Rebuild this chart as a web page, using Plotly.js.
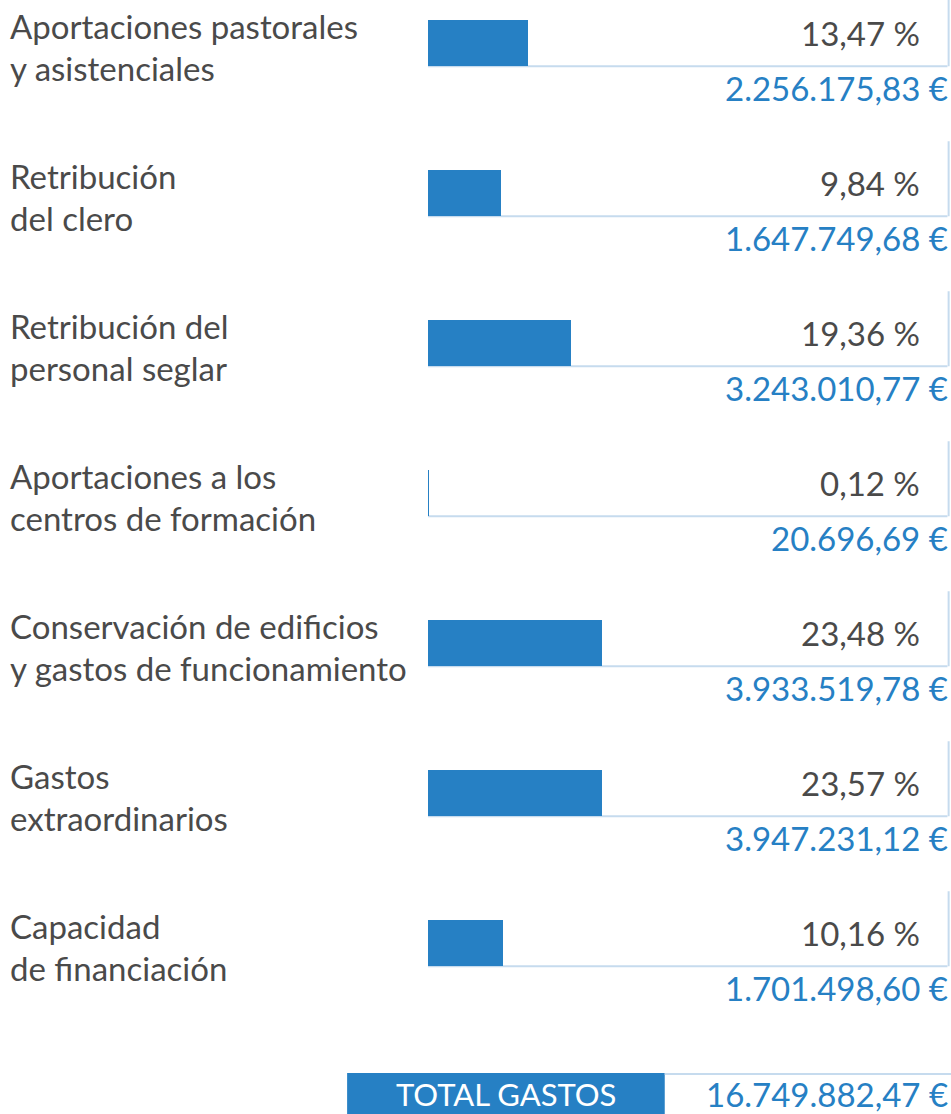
<!DOCTYPE html>
<html><head><meta charset="utf-8">
<script src="https://cdn.plot.ly/plotly-3.0.1.min.js"></script>
<style>html,body{margin:0;padding:0;background:#fff}#chart{width:951px;height:1114px}</style>
</head><body><div id="chart"></div>
<script>
const labels = [
  ["Aportaciones pastorales","y asistenciales"],
  ["Retribución","del clero"],
  ["Retribución del","personal seglar"],
  ["Aportaciones a los","centros de formación"],
  ["Conservación de edificios","y gastos de funcionamiento"],
  ["Gastos","extraordinarios"],
  ["Capacidad","de financiación"]
];
const percents = [13.47, 9.84, 19.36, 0.12, 23.48, 23.57, 10.16];
const percentText = ["13,47 %","9,84 %","19,36 %","0,12 %","23,48 %","23,57 %","10,16 %"];
const amounts = ["2.256.175,83 €","1.647.749,68 €","3.243.010,77 €","20.696,69 €","3.933.519,78 €","3.947.231,12 €","1.701.498,60 €"];
const totalLabel = "TOTAL GASTOS";
const totalAmount = "16.749.882,47 €";

const BLUE = "#2680c4", GREY = "#4a4a4a", LIGHT = "#c6dbee";
const FONT = "Lato, 'Open Sans', sans-serif";
const FS = 33;
const idx = percents.map((_, i) => i);
const half = 0.155;

const trace = {
  type: "bar", orientation: "h",
  x: percents, y: idx, width: 0.31,
  marker: {color: BLUE, line: {width: 0}},
  hoverinfo: "skip"
};

const shapes = [];
const annotations = [];
idx.forEach(i => {
  shapes.push({type: "line", xref: "x", yref: "y", x0: 0, x1: 70.2, y0: i + half, y1: i + half, line: {color: LIGHT, width: 2}, layer: "below"});
  shapes.push({type: "line", xref: "paper", yref: "y", x0: 0.9975, x1: 0.9975, y0: i + half, y1: i + half - 0.5, line: {color: LIGHT, width: 2}, layer: "below"});
  labels[i].forEach((ln, k) => {
    annotations.push({xref: "paper", yref: "y", x: 0.008, y: i, xanchor: "left", yanchor: "middle",
      yshift: k === 0 ? 17 : -25, text: ln, showarrow: false, font: {family: FONT, size: FS, color: GREY}});
  });
  annotations.push({xref: "paper", yref: "y", x: 0.97, y: i, xanchor: "right", yanchor: "middle", yshift: 10,
    text: percentText[i], showarrow: false, font: {family: FONT, size: FS, color: GREY}});
  annotations.push({xref: "paper", yref: "y", x: 0.999, y: i, xanchor: "right", yanchor: "middle", yshift: -45,
    text: amounts[i], showarrow: false, font: {family: FONT, size: FS, color: BLUE}});
});
const tIdx = percents.length;
shapes.push({type: "rect", xref: "paper", yref: "y", x0: 0.365, x1: 0.699, y0: tIdx - 0.133, y1: tIdx + 0.2, fillcolor: BLUE, line: {width: 0}});
shapes.push({type: "line", xref: "paper", yref: "y", x0: 0.699, x1: 1, y0: tIdx - 0.126, y1: tIdx - 0.126, line: {color: LIGHT, width: 2}});
annotations.push({xref: "paper", yref: "y", x: 0.532, y: tIdx, xanchor: "center", yanchor: "middle", yshift: -1,
  text: totalLabel, showarrow: false, font: {family: FONT, size: 31, color: "#ffffff"}});
annotations.push({xref: "paper", yref: "y", x: 0.999, y: tIdx, xanchor: "right", yanchor: "middle", yshift: -1,
  text: totalAmount, showarrow: false, font: {family: FONT, size: FS, color: BLUE}});

const layout = {
  width: 951, height: 1114,
  margin: {l: 0, r: 0, t: 0, b: 0},
  paper_bgcolor: "#fff", plot_bgcolor: "#fff",
  showlegend: false,
  xaxis: {range: [-57.84, 70.68], visible: false, fixedrange: true},
  yaxis: {range: [7.14, -0.2867], visible: false, fixedrange: true},
  shapes: shapes, annotations: annotations,
  bargap: 0
};
Plotly.newPlot("chart", [trace], layout, {displayModeBar: false, staticPlot: true});
</script></body></html>
